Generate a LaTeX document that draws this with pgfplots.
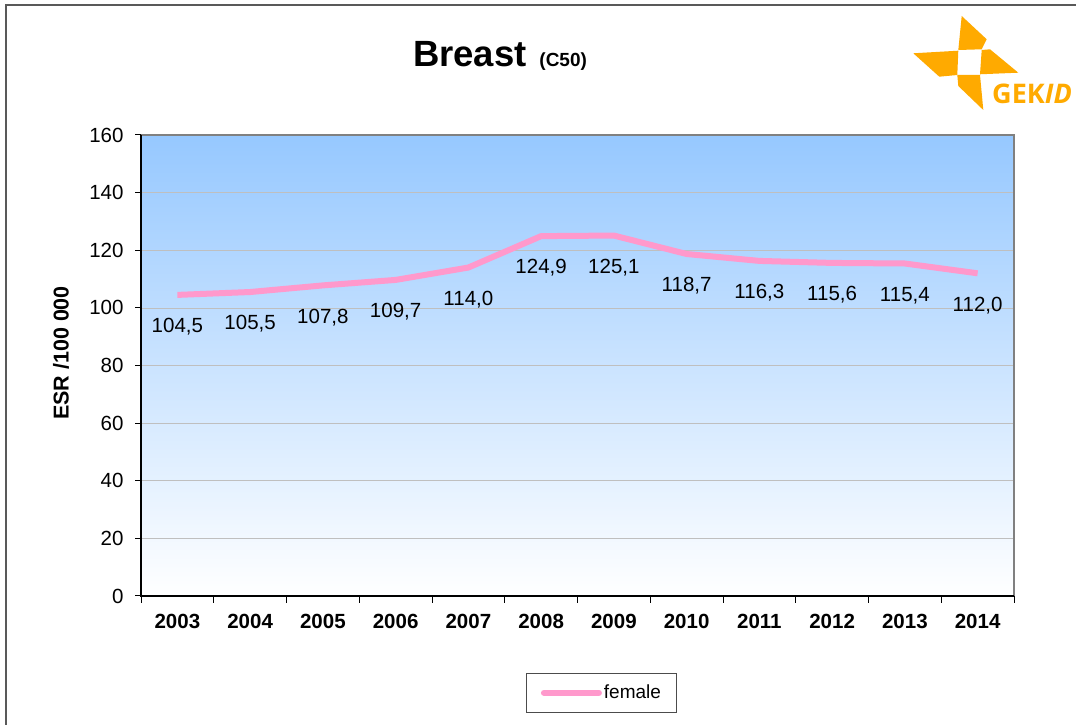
\documentclass[border=0pt]{standalone}
\usepackage{fontspec}
\setmainfont{Liberation Sans}
\newfontfamily\logofont{Open Sans}
\usepackage{pgfplots}
\pgfplotsset{compat=1.18}
\definecolor{skyb}{RGB}{150,200,255}
\definecolor{pinkl}{RGB}{255,153,204}
\definecolor{gekid}{RGB}{255,170,0}
\definecolor{frameg}{RGB}{128,128,128}
\begin{document}
\begin{tikzpicture}[x=1pt,y=1pt]
\useasboundingbox (0,0) rectangle (1076,725);
\fill[white] (0,0) rectangle (1076,725);
% outer frame
\draw[black!65, line width=1.6pt] (6,0) -- (6,720) -- (1076,720);
% title
\node[anchor=base, inner sep=0pt] at (500,658) {\fontsize{36.5}{42}\selectfont\bfseries Breast\hspace{0.35em}{\fontsize{19}{23}\selectfont (C50)}};
% logo
\fill[gekid] (961.7,709) -- (986.7,685.7) -- (981.7,675.7) -- (958.3,675) -- cycle;
\fill[gekid] (913.3,671.7) -- (958.3,674.3) -- (957.3,650) -- (939.3,648.3) -- cycle;
\fill[gekid] (981.7,675) -- (990,675.7) -- (1018.3,652.3) -- (980,650.7) -- cycle;
\fill[gekid] (957.3,650) -- (980,650) -- (983.3,615) -- (958.3,639) -- cycle;
\node[anchor=base west, inner sep=0pt, text=gekid] at (992,621) {\logofont\bfseries\fontsize{27}{32}\selectfont GEK\textit{ID}};
% y label
\node[rotate=90, inner sep=0pt] at (61,372) {\fontsize{21.5}{25}\selectfont\bfseries ESR /100 000};
\begin{axis}[
  at={(141pt,129pt)}, anchor=south west,
  scale only axis, width=873pt, height=461pt,
  xmin=-0.5, xmax=11.5, ymin=0, ymax=160,
  ytick={0,20,...,160},
  yticklabels={0,20,40,60,80,100,120,140,160},
  xtick={0,...,11},
  xticklabels={2003,2004,2005,2006,2007,2008,2009,2010,2011,2012,2013,2014},
  minor xtick={-0.5,0.5,...,11.5},
  tick align=outside, xtick pos=bottom, ytick pos=left,
  major tick length=6pt, minor tick length=7pt,
  major x tick style={draw=none},
  minor x tick style={black, line width=1pt},
  ytick style={black, line width=1pt},
  ymajorgrids, grid style={gray!50, line width=0.6pt},
  axis line style={draw=none},
  axis background/.style={shade, top color=skyb, bottom color=white},
  /pgf/number format/assume math mode=true,
  xticklabel style={font=\fontsize{20.5}{24}\selectfont\bfseries, yshift=-9pt},
  yticklabel style={font=\fontsize{20.5}{24}\selectfont, xshift=-8pt},
  nodes near coords={\pgfmathprintnumber[fixed,fixed zerofill,precision=1,use comma]{\pgfplotspointmeta}},
  every node near coord/.append style={anchor=center, yshift=-32pt, font=\fontsize{20.5}{24}\selectfont, text=black},
  legend style={at={(0.528,-0.21)}, anchor=center, draw=black!70, line width=1pt,
    font=\fontsize{19}{23}\selectfont, inner xsep=14pt, inner ysep=10pt},
  legend image code/.code={\draw[pinkl, line width=6pt, line cap=round] (0pt,0pt) -- (55pt,0pt);},
  after end axis/.code={
    \draw[frameg, line width=2.5pt] (rel axis cs:0,1) -- (rel axis cs:1,1) -- (rel axis cs:1,0);
    \draw[black, line width=1.6pt] (rel axis cs:0,1) -- (rel axis cs:0,0) -- (rel axis cs:1,0);
  },
]
\addplot[pinkl, line width=6pt, line join=round, mark=none] coordinates {
(0,104.5) (1,105.5) (2,107.8) (3,109.7) (4,114.0) (5,124.9)
(6,125.1) (7,118.7) (8,116.3) (9,115.6) (10,115.4) (11,112.0)
};
\addlegendentry{female}
\end{axis}
\end{tikzpicture}
\end{document}
